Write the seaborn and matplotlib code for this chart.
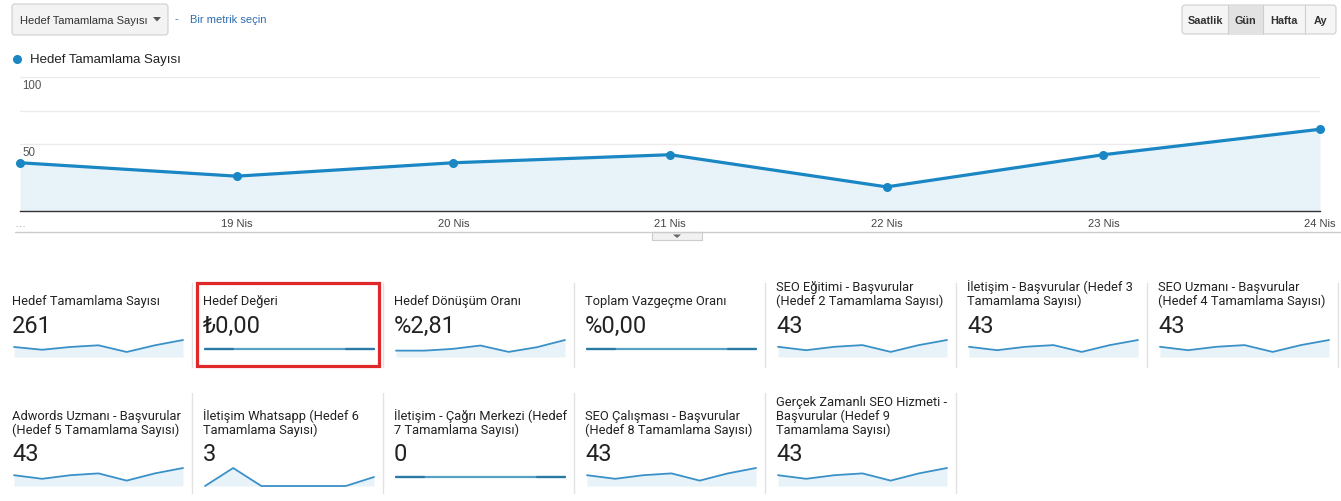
import numpy as np
import pandas as pd
import matplotlib
matplotlib.use("Agg")
import matplotlib.pyplot as plt
from matplotlib.patches import FancyBboxPatch, Rectangle, Polygon
import seaborn as sns

# === Data ===
days = ["18 Nis", "19 Nis", "20 Nis", "21 Nis", "22 Nis", "23 Nis", "24 Nis"]
tick_labels = ["…", "19 Nis", "20 Nis", "21 Nis", "22 Nis", "23 Nis", "24 Nis"]
goal_completions = [36, 26, 36, 42, 18, 42, 61]
goal_form = [6, 4, 6, 7, 3, 7, 10]          # hedef 2,3,4,5,8,9
goal_whatsapp = [0, 2, 0, 0, 0, 0, 1]
goal_conv_rate = [1.5, 1.5, 1.9, 2.7, 1.2, 2.3, 4.0]
zero_series = [0, 0, 0, 0, 0, 0, 0]

card_titles = [
    "Hedef Tamamlama Sayısı",
    "Hedef Değeri",
    "Hedef Dönüşüm Oranı",
    "Toplam Vazgeçme Oranı",
    "SEO Eğitimi - Başvurular\n(Hedef 2 Tamamlama Sayısı)",
    "İletişim - Başvurular (Hedef 3\nTamamlama Sayısı)",
    "SEO Uzmanı - Başvurular\n(Hedef 4 Tamamlama Sayısı)",
    "Adwords Uzmanı - Başvurular\n(Hedef 5 Tamamlama Sayısı)",
    "İletişim Whatsapp (Hedef 6\nTamamlama Sayısı)",
    "İletişim - Çağrı Merkezi (Hedef\n7 Tamamlama Sayısı)",
    "SEO Çalışması - Başvurular\n(Hedef 8 Tamamlama Sayısı)",
    "Gerçek Zamanlı SEO Hizmeti -\nBaşvurular (Hedef 9\nTamamlama Sayısı)",
]
card_values = ["261", "₺0,00", "%2,81", "%0,00", "43", "43", "43",
               "43", "3", "0", "43", "43"]
card_series = [goal_completions, zero_series, goal_conv_rate, zero_series,
               goal_form, goal_form, goal_form,
               goal_form, goal_whatsapp, zero_series, goal_form, goal_form]

# === Figure setup ===
W, H = 1341, 502
sns.set_style("white")
plt.rcParams["font.family"] = ["Liberation Sans", "DejaVu Sans"]
fig = plt.figure(figsize=(W / 100, H / 100), dpi=100)

BLUE = "#1a86c4"
FILL = "#e8f2f9"


def px_axes(x0, y0, x1, y1):
    return fig.add_axes([x0 / W, 1 - y1 / H, (x1 - x0) / W, (y1 - y0) / H])


# === Main line chart ===
df = pd.DataFrame({"gun": np.arange(len(days)), "deger": goal_completions})
ax = px_axes(20, 78, 1320, 212)
ax.fill_between(df["gun"], df["deger"], color=FILL, lw=0)
for g in [50, 75, 100]:
    ax.axhline(g, color="#ebebeb", lw=1, zorder=0)
sns.lineplot(data=df, x="gun", y="deger", ax=ax, color=BLUE, lw=2.3,
             marker="o", markersize=6.5, markeredgewidth=0, clip_on=False)
ax.set_xlim(0, 6)
ax.set_ylim(0, 100)
for s in ["top", "left", "right"]:
    ax.spines[s].set_visible(False)
ax.spines["bottom"].set_color("#333333")
ax.spines["bottom"].set_linewidth(1)
ax.set_xticks(df["gun"])
ax.set_xticklabels(tick_labels, fontsize=8, color="#444444")
ax.get_xticklabels()[0].set_color("#999999")
ax.tick_params(axis="x", length=0, pad=5)
ax.set_yticks([])
ax.set_xlabel("")
ax.set_ylabel("")

# === Sparklines ===
col_w = 191
for i, vals in enumerate(card_series):
    row, col = divmod(i, 7)
    x0 = 12 + col * col_w
    if row == 0:
        sp_top, sp_bot = 341, 358
    else:
        sp_top, sp_bot = 469, 487
    sax = px_axes(x0 + 2, sp_top, x0 + 171, sp_bot)
    sdf = pd.DataFrame({"gun": np.arange(len(vals)), "deger": vals})
    if max(vals) == 0:
        sns.lineplot(data=sdf, x="gun", y="deger", ax=sax, color="#5a9fc4",
                     lw=1.6, clip_on=False)
        sns.lineplot(data=sdf.iloc[:2], x="gun", y="deger", ax=sax,
                     color="#2b7aa6", lw=1.6, clip_on=False)
        sns.lineplot(data=sdf.iloc[-2:], x="gun", y="deger", ax=sax,
                     color="#2b7aa6", lw=1.6, clip_on=False)
        sax.set_ylim(-1, 1)
    else:
        sax.fill_between(sdf["gun"], sdf["deger"], color=FILL, lw=0)
        sns.lineplot(data=sdf, x="gun", y="deger", ax=sax, color="#3a91c8",
                     lw=1.3, clip_on=False)
        sax.set_ylim(0, max(vals))
    sax.set_xlim(0, len(vals) - 1)
    sax.axis("off")

# === Overlay for texts and widgets (pixel coordinates) ===
ov = fig.add_axes([0, 0, 1, 1], zorder=5)
ov.set_xlim(0, W)
ov.set_ylim(H, 0)
ov.axis("off")

# scorecard texts and separators
for i, (val_txt, title) in enumerate(zip(card_values, card_titles)):
    row, col = divmod(i, 7)
    x0 = 12 + col * col_w
    if row == 0:
        val_base, title_bot, sep = 334, 308, (284, 368)
    else:
        val_base, title_bot, sep = 462, 437, (394, 494)
    ov.text(x0, title_bot, title, fontsize=9.3, family="Roboto", color="#222222",
            va="bottom", ha="left", linespacing=1.05)
    ov.text(x0, val_base + 4, val_txt, fontsize=17, family="Roboto",
            color="#222222", va="bottom", ha="left")
    ov.plot([x0 + 180, x0 + 180], sep, color="#e2e2e2", lw=1)

# red highlight box
ov.add_patch(Rectangle((197, 284), 182, 83, fill=False, ec="#e0282a", lw=2.3))

# y labels inside main chart
ov.text(22, 86, "100", fontsize=8.3, color="#555555", va="center")
ov.text(22, 153, "50", fontsize=8.3, color="#555555", va="center")

# legend
ov.plot([17], [60], "o", color=BLUE, markersize=6.5, markeredgewidth=0)
ov.text(30, 60, "Hedef Tamamlama Sayısı", fontsize=9.5, color="#222222", va="center")

# divider below chart with small tab
ov.plot([15, W], [233, 233], color="#cccccc", lw=1)
ov.add_patch(Rectangle((652, 233), 50, 8, fc="#f1f1f1", ec="#cccccc", lw=0.8))
ov.add_patch(Polygon([[673, 235.5], [681, 235.5], [677, 239]], closed=True,
                     fc="#666666", ec="none"))

# metric dropdown
ov.add_patch(FancyBboxPatch((12, 5), 156, 31, boxstyle="round,pad=0,rounding_size=3",
                            fc="#f3f3f3", ec="#cfcfcf", lw=0.8))
ov.text(20, 20.5, "Hedef Tamamlama Sayısı", fontsize=8, color="#333333", va="center")
ov.add_patch(Polygon([[153, 18], [161, 18], [157, 22.5]], closed=True,
                     fc="#555555", ec="none"))
ov.text(176, 19, "-", fontsize=8, color="#3a76b8", va="center", ha="center")
ov.text(190, 20, "Bir metrik seçin", fontsize=8, color="#2f6cb0", va="center")

# time buttons
btns = [("Saatlik", 1182, 1228), ("Gün", 1228, 1263), ("Hafta", 1263, 1305), ("Ay", 1305, 1336)]
ov.add_patch(FancyBboxPatch((1182, 6), 154, 29, boxstyle="round,pad=0,rounding_size=3",
                            fc="#f5f5f5", ec="#cfcfcf", lw=0.8))
for label, bx0, bx1 in btns:
    if label == "Gün":
        ov.add_patch(Rectangle((bx0, 6.5), bx1 - bx0, 28, fc="#e2e2e2", ec="none"))
    if bx0 > 1182:
        ov.plot([bx0, bx0], [6, 35], color="#cfcfcf", lw=0.8)
    ov.text((bx0 + bx1) / 2, 20.5, label, fontsize=7.8, fontweight="bold",
            color="#333333", va="center", ha="center")

fig.savefig("out.png", dpi=100)
